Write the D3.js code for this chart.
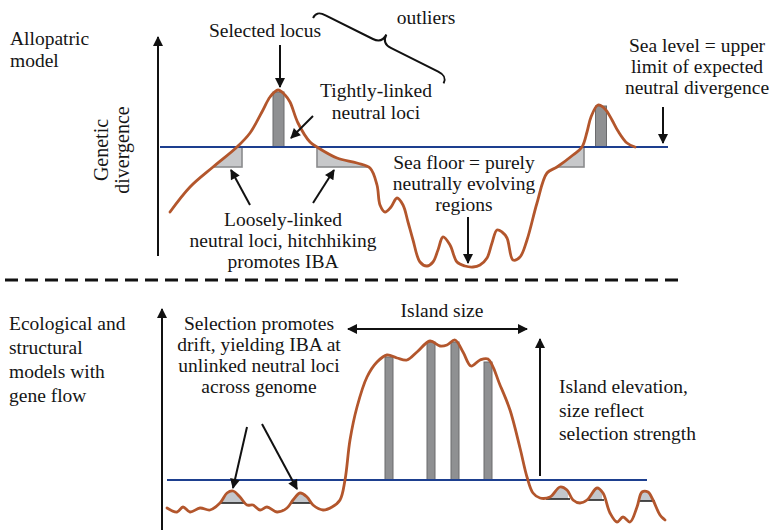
<!DOCTYPE html>
<html>
<head>
<meta charset="utf-8">
<script src="https://cdn.jsdelivr.net/npm/d3@7"></script>
<style>
  html, body { margin: 0; padding: 0; background: #fff; }
  svg text { font-family: "Liberation Serif", "Times New Roman", serif; fill: #151515; }
</style>
</head>
<body>
<script>
// ---------- DATA (genome position, divergence) ----------
// Allopatric model (top panel)
const topPos = [6, 16, 27.5, 39.5, 46, 52.5, 56, 60, 63.5, 66, 70, 76, 79.5, 89.5, 99.5, 106, 109.5, 111, 113.5, 116.5, 119.5, 122.5, 125, 127.5, 131, 134.5, 137.5, 140, 142.5, 146, 149.5, 153.5, 157.5, 161, 164.5, 167, 169.5, 172, 174.5, 177.5, 181, 184.5, 189.5, 194.5, 199.5, 207.5, 212, 214.5, 216.5, 220, 223.5, 227, 230, 234.5, 238.5];
const topDiv = [28, 40.5, 50.5, 60.5, 67.5, 79, 85.5, 89, 86.5, 83, 72.5, 63, 60.5, 55, 52.5, 50, 41.5, 31.5, 28, 30.5, 35, 31.5, 23, 14, 3, 1, 3, 9, 15.5, 11.5, 3, 1, 0.5, 1.5, 5, 12.5, 19, 18, 15, 4, 5.5, 14, 32.5, 47.5, 50.5, 56.5, 60.5, 68, 75.5, 81.5, 79.5, 74, 68.5, 62.5, 60.5];
const topSeaLevel = 60.5;
const topSeaRange = [1, 255];
// selected loci (bars): centre, height
const topBarPos = [60.25, 221.5];
const topBarTop = [88, 81];
// loosely-linked neutral loci (hitchhiking regions): start, end, floor
const topLinkStart = [27, 79.5, 199.5];
const topLinkEnd = [42, 104.5, 213];
const topLinkFloor = [50.5, 50.5, 50.5];

// Ecological / structural models (bottom panel)
const botPos = [4.5, 9.5, 12.5, 16, 21, 26, 31, 34.5, 37.5, 41, 44.5, 47.5, 51, 54.5, 59.5, 64.5, 67.5, 71, 74.5, 77.5, 82.5, 87, 91, 93.5, 96, 99.5, 104.5, 109.5, 114.5, 119.5, 124.5, 129.5, 136, 141, 144.5, 148.5, 152.5, 156.5, 161, 165, 171, 176, 181, 184.5, 187.5, 191, 196, 201, 204.5, 207.5, 211, 214.5, 219.5, 222.5, 226, 229.5, 232.5, 236, 239.5, 242, 245, 247.5, 251, 253.5];
const botDiv = [10, 8, 10.5, 8, 10, 9, 12.5, 17.5, 18.5, 15.5, 11.5, 11.5, 9, 10.5, 8, 10, 14, 17.5, 15.5, 11.5, 9, 10.5, 14, 24, 44, 60.5, 75.5, 83, 86.5, 85, 84, 88, 93.5, 91, 91.5, 94, 88, 81, 84, 84.5, 71.5, 59, 40, 25.5, 17.5, 15, 15.5, 20.5, 19, 14, 12.5, 14, 20, 17.5, 7.5, 3, 5.5, 3, 10.5, 18, 18, 14, 6.5, 4];
const botSeaLevel = 24;
const botSeaRange = [4.5, 244.5];
const botBarPos = [115.5, 136.5, 148.5, 165];
const botBarTop = [85.5, 93, 93, 83];
// drift peaks at unlinked neutral loci: start, end, floor
const botBumpStart = [32, 67.5, 195, 215, 241];
const botBumpEnd = [42, 76, 205, 222, 247.5];
const botBumpFloor = [12.5, 12.5, 14.5, 14, 13.5];

// ---------- LAYOUT ----------
const W = 773, H = 530;
const x = d3.scaleLinear().domain([0, 255]).range([158, 668]);
const yTop = d3.scaleLinear().domain([0, 120]).range([268, 28]);
const yBot = d3.scaleLinear().domain([0, 120]).range([528, 288]);
const barWidth = 5.5, botBarWidth = 4;

const curveColor = "#b3562c";
const seaColor = "#1d3f8f";

const svg = d3.select("body").append("svg").attr("width", W).attr("height", H);
const defs = svg.append("defs");
defs.append("marker")
  .attr("id", "arrow").attr("viewBox", "0 0 10 10")
  .attr("refX", 9).attr("refY", 5)
  .attr("markerUnits", "userSpaceOnUse")
  .attr("markerWidth", 11).attr("markerHeight", 10)
  .attr("orient", "auto-start-reverse")
  .append("path").attr("d", "M0,0 L10,5 L0,10 z").attr("fill", "#111");

function panel(pos, div, y, sea, seaRange, barPos, barTop, bw, regStart, regEnd, regFloor, regStyle, id) {
  const pts = pos.map((p, i) => [p, div[i]]);
  const curve = d3.curveCatmullRom.alpha(0.5);
  const line = d3.line().x(d => x(d[0])).y(d => y(d[1])).curve(curve);
  const under = d3.area().x(d => x(d[0])).y0(y(-20)).y1(d => y(d[1])).curve(curve);
  defs.append("clipPath").attr("id", "under-" + id).append("path").attr("d", under(pts));

  const g = svg.append("g");
  // hitchhiking / drift regions
  const reg = g.append("g").attr("clip-path", `url(#under-${id})`);
  regStart.forEach((s, i) => {
    reg.append("rect")
      .attr("x", x(s)).attr("width", x(regEnd[i]) - x(s))
      .attr("y", y(sea)).attr("height", y(regFloor[i]) - y(sea))
      .attr("fill", regStyle.fill)
      .attr("stroke", regStyle.stroke).attr("stroke-width", regStyle.sw);
  });
  if (regStyle.base) {
    regStart.forEach((s, i) => {
      g.append("line")
        .attr("x1", x(s) - 2).attr("x2", x(regEnd[i]) + 2)
        .attr("y1", y(regFloor[i])).attr("y2", y(regFloor[i]))
        .attr("stroke", "#222").attr("stroke-width", 1.6);
    });
  }
  // selected loci bars
  g.selectAll("rect.bar").data(barPos).join("rect").attr("class", "bar")
    .attr("x", (d) => x(d - bw / 2)).attr("width", x(bw) - x(0))
    .attr("y", (d, i) => y(barTop[i])).attr("height", (d, i) => y(sea) - y(barTop[i]))
    .attr("fill", "#8f9092").attr("stroke", "#6b6b6d").attr("stroke-width", 1);
  // sea level
  g.append("line")
    .attr("x1", x(seaRange[0])).attr("x2", x(seaRange[1]))
    .attr("y1", y(sea)).attr("y2", y(sea))
    .attr("stroke", seaColor).attr("stroke-width", 2.2);
  // divergence profile
  g.append("path").attr("d", line(pts))
    .attr("fill", "none").attr("stroke", curveColor)
    .attr("stroke-width", 2.8).attr("stroke-linejoin", "round").attr("stroke-linecap", "round");
}

panel(topPos, topDiv, yTop, topSeaLevel, topSeaRange, topBarPos, topBarTop, barWidth,
  topLinkStart, topLinkEnd, topLinkFloor, { fill: "#c7c8ca", stroke: "#8a8b8d", sw: 1.6, base: false }, "top");
panel(botPos, botDiv, yBot, botSeaLevel, botSeaRange, botBarPos, botBarTop, botBarWidth,
  botBumpStart, botBumpEnd, botBumpFloor, { fill: "#c3c7cc", stroke: "none", sw: 0, base: true }, "bot");

// ---------- AXES ----------
function arrow(x1, y1, x2, y2, both) {
  const l = svg.append("line")
    .attr("x1", x1).attr("y1", y1).attr("x2", x2).attr("y2", y2)
    .attr("stroke", "#111").attr("stroke-width", 2)
    .attr("marker-end", "url(#arrow)");
  if (both) l.attr("marker-start", "url(#arrow)");
}
arrow(158, 256, 158, 37);
arrow(162, 532, 162, 309);

// dashed separator
svg.append("line").attr("x1", 5).attr("x2", 683).attr("y1", 280).attr("y2", 280)
  .attr("stroke", "#111").attr("stroke-width", 3).attr("stroke-dasharray", "13,7");

// ---------- ANNOTATIONS ----------
arrow(280, 45, 280, 87);          // selected locus
arrow(313, 116, 291, 138);        // tightly-linked
arrow(250, 205, 231, 170);        // loosely-linked left
arrow(313, 203, 334, 170);        // loosely-linked right
arrow(468, 217, 468, 263);        // sea floor
arrow(663, 107, 663, 143);        // sea level
arrow(247, 427, 233, 488);        // bottom left bump
arrow(262, 424, 297, 489);        // bottom right bump
arrow(348, 329, 527, 329, true);  // island size
arrow(540, 476, 540, 339);        // island elevation

// curly brace for outliers
const L = 146;
svg.append("path")
  .attr("transform", "translate(316.6,10.8) rotate(26.6)")
  .attr("d", `M0,8 C0,2 3,0 10,0 L${L/2-10},0 C${L/2-3},0 ${L/2},-3 ${L/2},-10 C${L/2},-3 ${L/2+3},0 ${L/2+10},0 L${L-10},0 C${L-3},0 ${L},2 ${L},8`)
  .attr("fill", "none").attr("stroke", "#111").attr("stroke-width", 2);

// ---------- TEXT ----------
const fs = 19.5;
function label(lines, cx, y0, dy, anchor) {
  const t = svg.append("text").attr("font-size", fs).attr("text-anchor", anchor || "middle");
  lines.forEach((s, i) => t.append("tspan").attr("x", cx).attr("y", y0 + i * dy).text(s));
}
label(["Allopatric", "model"], 10, 45, 22, "start");
label(["Ecological and", "structural", "models with", "gene flow"], 9, 330, 24, "start");
label(["Selected locus"], 265, 37, 0);
label(["outliers"], 426, 24, 0);
label(["Tightly-linked", "neutral loci"], 376, 97, 22);
label(["Loosely-linked", "neutral loci, hitchhiking", "promotes IBA"], 283, 226, 21);
label(["Sea floor = purely", "neutrally evolving", "regions"], 464, 169, 21);
label(["Sea level = upper", "limit of expected", "neutral divergence"], 697, 52, 21);
label(["Island size"], 442, 317, 0);
label(["Selection promotes", "drift, yielding IBA at", "unlinked neutral loci", "across genome"], 259, 330, 21);
label(["Island elevation,", "size reflect", "selection strength"], 559, 393, 23.5, "start");

const yl = svg.append("text").attr("font-size", 20).attr("text-anchor", "middle")
  .attr("transform", "translate(0,150) rotate(-90)");
yl.append("tspan").attr("x", 0).attr("y", 108).text("Genetic");
yl.append("tspan").attr("x", 0).attr("y", 129).text("divergence");
</script>
</body>
</html>
